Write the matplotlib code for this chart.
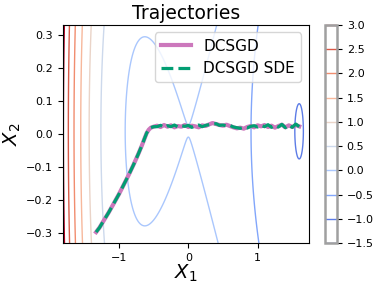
import numpy as np
import matplotlib.pyplot as plt

# loss landscape f(x, y) = a x^4 + b x^3 + c x^2 + k (y - y0)^2 + e
a, b, c = 0.2585, -0.335, -0.519
k, y0, e = 1.0, 0.008, -0.0003
levels = [-1.5, -1.0, -0.5, 0.0, 0.5, 1.0, 1.5, 2.0, 2.5, 3.0]

# trajectories
curve_x = [-1.33, -1.28, -1.22, -1.15, -1.08, -1.0, -0.93, -0.86, -0.79, -0.72,
           -0.67, -0.63, -0.60, -0.57, -0.54, -0.50]
curve_y = [-0.297, -0.283, -0.262, -0.238, -0.212, -0.182, -0.153, -0.124, -0.093, -0.060,
           -0.035, -0.013, 0.003, 0.013, 0.019, 0.022]
flat_x = [-0.45, -0.40, -0.35, -0.30, -0.25, -0.20, -0.15, -0.10, -0.05, 0.0,
          0.05, 0.10, 0.15, 0.20, 0.25, 0.30, 0.35, 0.40, 0.45, 0.50,
          0.55, 0.60, 0.65, 0.70, 0.75, 0.80, 0.85, 0.90, 0.95, 1.0,
          1.05, 1.10, 1.15, 1.20, 1.25, 1.30, 1.35, 1.40, 1.45, 1.50, 1.55, 1.60]
sgd_y = [0.025, 0.021, 0.027, 0.022, 0.026, 0.020, 0.024, 0.022, 0.027, 0.021,
         0.025, 0.023, 0.020, 0.026, 0.024, 0.029, 0.033, 0.030, 0.027, 0.025,
         0.028, 0.024, 0.020, 0.017, 0.019, 0.016, 0.021, 0.024, 0.020, 0.026,
         0.023, 0.027, 0.021, 0.025, 0.019, 0.024, 0.028, 0.020, 0.026, 0.021, 0.027, 0.023]
sde_y = [0.022, 0.026, 0.020, 0.025, 0.022, 0.027, 0.021, 0.025, 0.023, 0.026,
         0.020, 0.024, 0.027, 0.022, 0.026, 0.028, 0.030, 0.031, 0.026, 0.027,
         0.024, 0.026, 0.021, 0.019, 0.017, 0.020, 0.018, 0.023, 0.025, 0.021,
         0.026, 0.022, 0.028, 0.020, 0.026, 0.021, 0.029, 0.019, 0.027, 0.020, 0.030, 0.022]

pink = '#CC78BC'
green = '#029E73'

xs = np.linspace(-1.81, 1.74, 400)
ys = np.linspace(-0.33, 0.33, 300)
X, Y = np.meshgrid(xs, ys)
Z = a*X**4 + b*X**3 + c*X**2 + k*(Y - y0)**2 + e

fig = plt.figure(figsize=(3.74, 2.89), dpi=100)
ax = fig.add_axes([0.168, 0.159, 0.658, 0.755])
cax = fig.add_axes([0.869, 0.159, 0.032, 0.755])

cs = ax.contour(X, Y, Z, levels=levels, cmap='coolwarm', linewidths=1.0)
ax.plot(curve_x + flat_x, curve_y + sgd_y, color=pink, lw=3.0, label='DCSGD')
ax.plot(curve_x + flat_x, curve_y + sde_y, color=green, lw=2.3, ls='--', label='DCSGD SDE')

ax.set_xlim(-1.81, 1.74)
ax.set_ylim(-0.33, 0.33)
ax.set_xticks([-1, 0, 1])
ax.set_yticks([-0.3, -0.2, -0.1, 0.0, 0.1, 0.2, 0.3])
ax.tick_params(labelsize=8)
ax.set_xlabel('$X_1$', fontsize=14, labelpad=0)
ax.set_ylabel('$X_2$', fontsize=14, labelpad=2)
ax.set_title('Trajectories', fontsize=13.5, pad=4)
ax.legend(loc='upper right', fontsize=11, handlelength=2.0)

cbar = fig.colorbar(cs, cax=cax)
cbar.outline.set_edgecolor('#a0a0a0')
cbar.outline.set_linewidth(1.8)
cbar.ax.tick_params(labelsize=8)

fig.savefig('out.png', dpi=100)
